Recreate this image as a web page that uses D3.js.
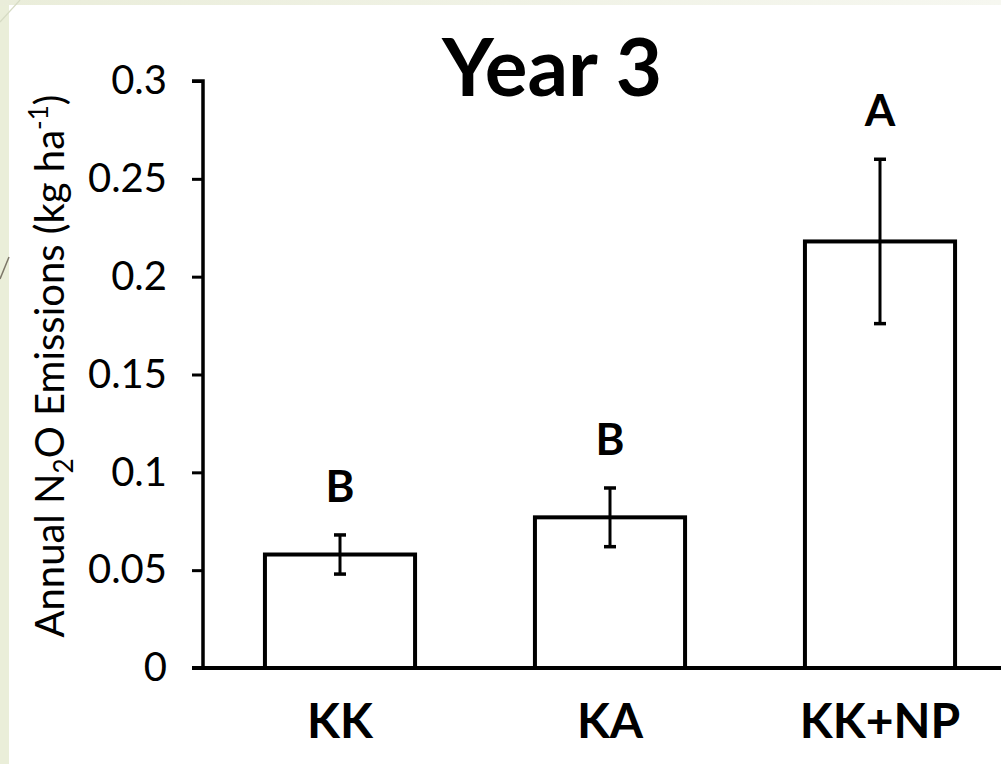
<!DOCTYPE html>
<html>
<head>
<meta charset="utf-8">
<script src="https://cdn.jsdelivr.net/npm/d3@7"></script>
<style>
  html, body { margin: 0; padding: 0; background: #ebeedc; }
  svg { display: block; }
</style>
</head>
<body>
<svg id="chart" width="1001" height="764"></svg>
<script>
// Annual N2O emissions, year 3, per treatment
const categories = ["KK", "KA", "KK+NP"];
const emissions = [0.058, 0.077, 0.218];
const stdErrors = [0.010, 0.015, 0.042];
const groupLetters = ["B", "B", "A"];
const yTicks = [0, 0.05, 0.1, 0.15, 0.2, 0.25, 0.3];

const svg = d3.select("#chart");
const W = 1001, H = 764;
const FONT = "Lato, 'Open Sans', sans-serif";

// slide backdrop
const bg = svg.append("defs").append("linearGradient")
  .attr("id", "topband").attr("x1", 0).attr("x2", 1).attr("y1", 0).attr("y2", 0);
bg.append("stop").attr("offset", 0).attr("stop-color", "#eaedda");
bg.append("stop").attr("offset", 1).attr("stop-color", "#f6f7f0");
svg.append("rect").attr("width", W).attr("height", H).attr("fill", "#eaeed9");
svg.append("rect").attr("x", 0).attr("y", 0).attr("width", W).attr("height", 6).attr("fill", "url(#topband)");
svg.append("rect").attr("x", 9).attr("y", 5).attr("width", W - 9).attr("height", H - 5).attr("fill", "#ffffff");
svg.append("line").attr("x1", 0).attr("y1", 22).attr("x2", 20).attr("y2", 0)
  .attr("stroke", "#d6dbc4").attr("stroke-width", 1.2);
svg.append("line").attr("x1", 0).attr("y1", 279).attr("x2", 9).attr("y2", 257)
  .attr("stroke", "#7c7668").attr("stroke-width", 1.5);

const x = d3.scaleBand()
  .domain(categories)
  .range([205, 1015])
  .paddingInner(0.444)
  .paddingOuter(0.222);

const y = d3.scaleLinear()
  .domain([0, 0.3])
  .range([668, 81]);

const g = svg.append("g");

// bars
g.selectAll("rect.bar")
  .data(categories)
  .join("rect")
  .attr("class", "bar")
  .attr("x", d => x(d))
  .attr("y", (d, i) => y(emissions[i]))
  .attr("width", x.bandwidth())
  .attr("height", (d, i) => y(0) - y(emissions[i]))
  .attr("fill", "#ffffff")
  .attr("stroke", "#000")
  .attr("stroke-width", 4);

// error bars
const capHalf = 6;
const err = g.selectAll("g.err")
  .data(categories)
  .join("g")
  .attr("class", "err")
  .attr("transform", d => `translate(${x(d) + x.bandwidth() / 2},0)`);
err.append("line")
  .attr("y1", (d, i) => y(emissions[i] + stdErrors[i]))
  .attr("y2", (d, i) => y(emissions[i] - stdErrors[i]))
  .attr("stroke", "#000").attr("stroke-width", 3);
err.append("line")
  .attr("x1", -capHalf).attr("x2", capHalf)
  .attr("y1", (d, i) => y(emissions[i] + stdErrors[i]))
  .attr("y2", (d, i) => y(emissions[i] + stdErrors[i]))
  .attr("stroke", "#000").attr("stroke-width", 3.5);
err.append("line")
  .attr("x1", -capHalf).attr("x2", capHalf)
  .attr("y1", (d, i) => y(emissions[i] - stdErrors[i]))
  .attr("y2", (d, i) => y(emissions[i] - stdErrors[i]))
  .attr("stroke", "#000").attr("stroke-width", 3.5);

// significance letters
g.selectAll("text.letter")
  .data(categories)
  .join("text")
  .attr("class", "letter")
  .attr("x", d => x(d) + x.bandwidth() / 2)
  .attr("y", (d, i) => y(emissions[i] + stdErrors[i]) - 33)
  .attr("text-anchor", "middle")
  .attr("font-family", FONT)
  .attr("font-weight", "bold")
  .attr("font-size", 44)
  .text((d, i) => groupLetters[i]);

// y axis
const yAxis = d3.axisLeft(y)
  .tickValues(yTicks)
  .tickSize(11)
  .tickPadding(25)
  .tickFormat(d => d === 0 ? "0" : String(+d.toFixed(2)));
const ya = svg.append("g").attr("transform", "translate(203,0)").call(yAxis);
ya.select(".domain").attr("stroke-width", 3.5).attr("d", `M-11,${y(0.3)}H0V${y(0)}`);
ya.selectAll(".tick line").attr("stroke-width", 3);
ya.selectAll(".tick text")
  .attr("font-family", FONT)
  .attr("font-size", 40)
  .attr("fill", "#000");

// x axis baseline
svg.append("line")
  .attr("x1", 192).attr("x2", W)
  .attr("y1", y(0)).attr("y2", y(0))
  .attr("stroke", "#000").attr("stroke-width", 4);

// category labels
svg.selectAll("text.cat")
  .data(categories)
  .join("text")
  .attr("class", "cat")
  .attr("x", d => x(d) + x.bandwidth() / 2)
  .attr("y", 738)
  .attr("text-anchor", "middle")
  .attr("font-family", FONT)
  .attr("font-weight", "bold")
  .attr("font-size", 48)
  .text(d => d);

// title
svg.append("text")
  .attr("x", 552).attr("y", 96)
  .attr("text-anchor", "middle")
  .attr("font-family", FONT)
  .attr("font-weight", "bold")
  .attr("font-size", 80)
  .text("Year 3");

// y axis title with sub/superscripts
const yt = svg.append("text")
  .attr("transform", "translate(64,366) rotate(-90)")
  .attr("text-anchor", "middle")
  .attr("font-family", FONT)
  .attr("font-size", 40)
  .attr("fill", "#000");
yt.append("tspan").text("Annual N");
yt.append("tspan").attr("font-size", 26).attr("dy", 9).text("2");
yt.append("tspan").attr("dy", -9).text("O Emissions (kg ha");
yt.append("tspan").attr("font-size", 26).attr("dy", -16).text("-1");
yt.append("tspan").attr("dy", 16).text(")");
</script>
</body>
</html>
